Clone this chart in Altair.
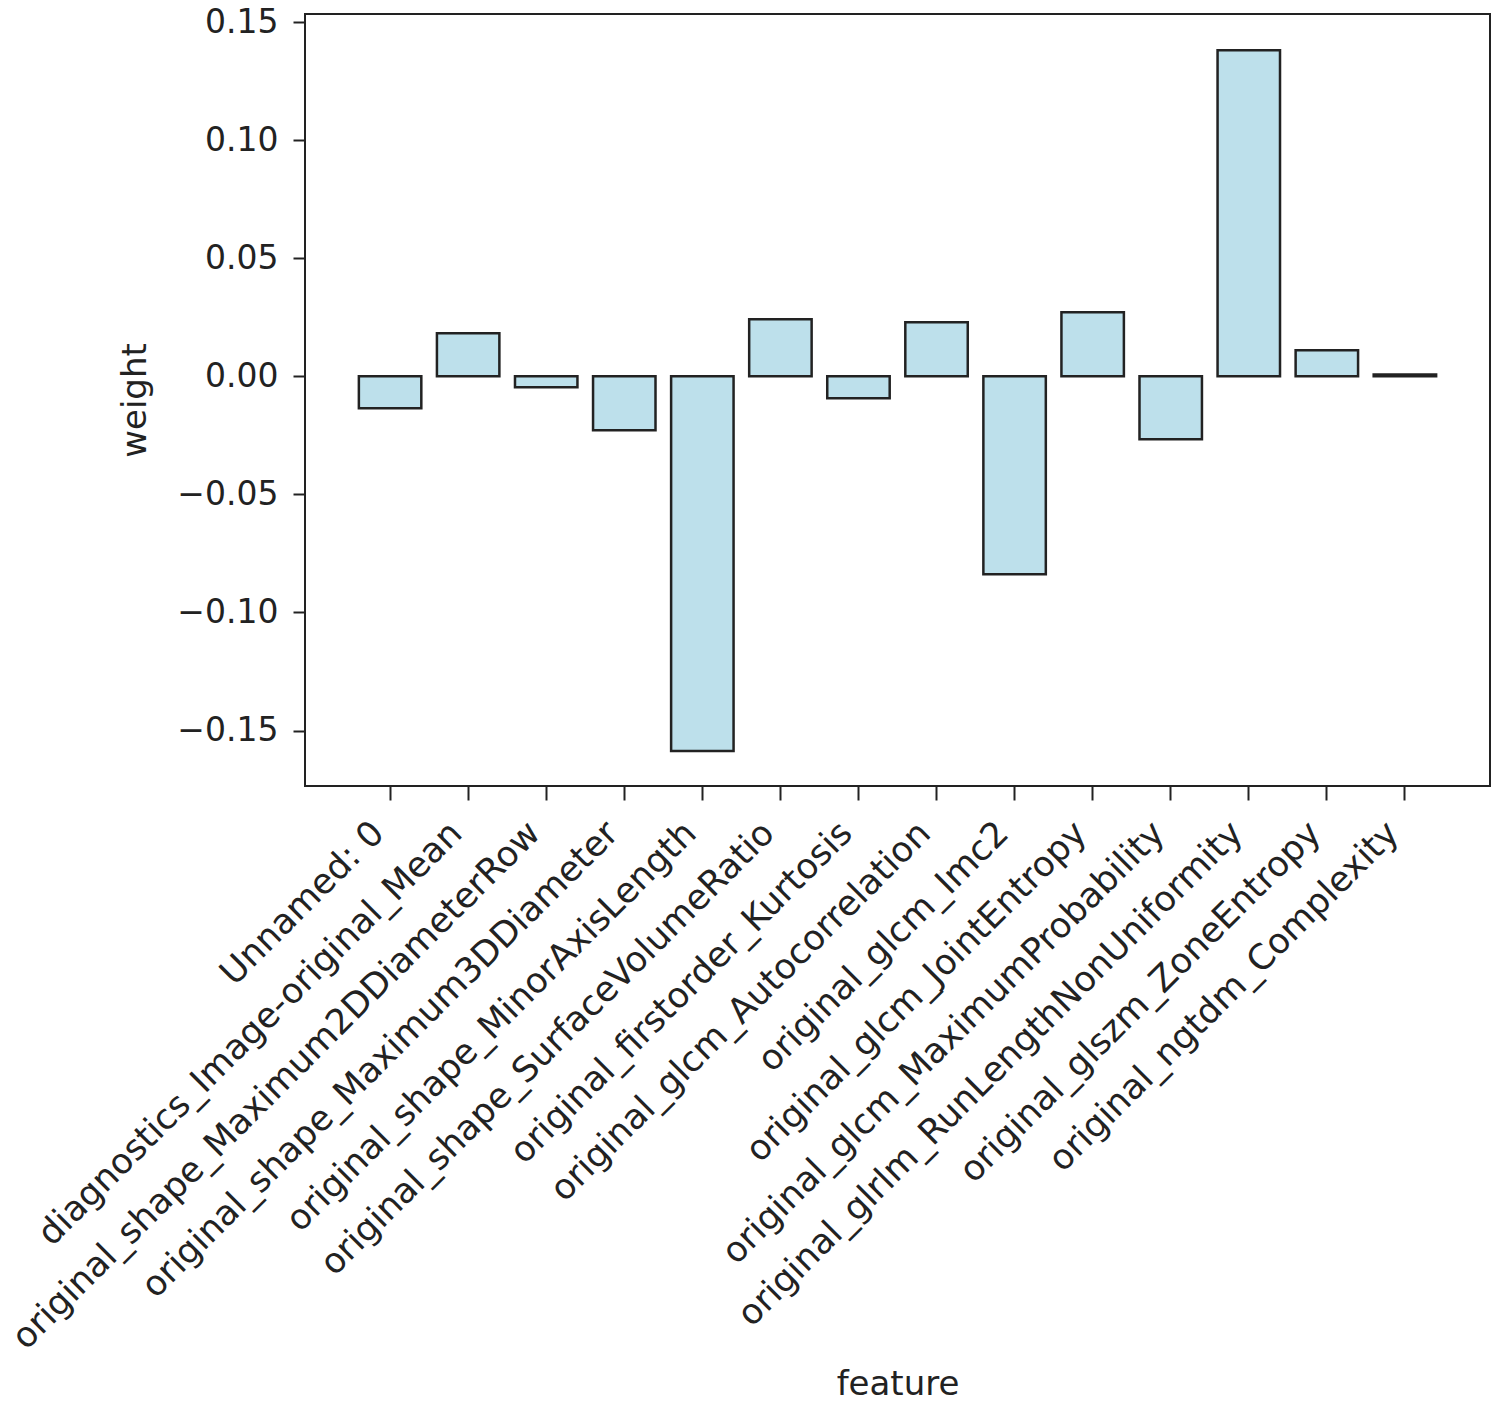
import altair as alt
import pandas as pd

features = [
    "Unnamed: 0",
    "diagnostics_Image-original_Mean",
    "original_shape_Maximum2DDiameterRow",
    "original_shape_Maximum3DDiameter",
    "original_shape_MinorAxisLength",
    "original_shape_SurfaceVolumeRatio",
    "original_firstorder_Kurtosis",
    "original_glcm_Autocorrelation",
    "original_glcm_Imc2",
    "original_glcm_JointEntropy",
    "original_glcm_MaximumProbability",
    "original_glrlm_RunLengthNonUniformity",
    "original_glszm_ZoneEntropy",
    "original_ngtdm_Complexity",
]
weights = [-0.0135, 0.0182, -0.0047, -0.0229, -0.1587, 0.0241, -0.0093,
           0.0229, -0.0838, 0.0271, -0.0267, 0.1380, 0.0110, 0.0008]
y_ticks = [-0.15, -0.10, -0.05, 0.0, 0.05, 0.10, 0.15]

df = pd.DataFrame({"feature": features, "weight": weights})

FONT = "DejaVu Sans"

chart = alt.Chart(df).mark_bar(
    fill="#add8e6", fillOpacity=0.8, stroke="#222222", strokeWidth=2.5
).encode(
    x=alt.X("feature:N", sort=None, title="feature",
            scale=alt.Scale(paddingInner=0.2, paddingOuter=0.69),
            axis=alt.Axis(labelAngle=-45, labelAlign="right", labelBaseline="top",
                          labelLimit=2000, labelPadding=15, labelOffset=-24, tickSize=14,
                          labelFontSize=35,
                          domain=False, titleY=598, titleBaseline="middle")),
    y=alt.Y("weight:Q", title="weight",
            scale=alt.Scale(domain=[-0.1735, 0.1534], nice=False, zero=False),
            axis=alt.Axis(values=y_ticks, format=".2f", tickSize=12, labelPadding=15,
                          labelFontSize=33,
                          domain=False, grid=False, titleX=-170, titleBaseline="middle",
                          titleY=386)),
).properties(
    width=1185, height=772,
    autosize=alt.AutoSizeParams(type="none"),
    padding={"left": 297, "top": 6, "right": 1, "bottom": 617},
).configure_view(
    stroke="#222222", strokeWidth=2
).configure_axis(
    labelFont=FONT, titleFont=FONT, titleFontSize=34,
    labelColor="#222222", titleColor="#222222", tickColor="#222222", tickWidth=2,
    titleFontWeight="normal", grid=False,
)

chart.save("out.html", embed_options={"renderer": "svg", "actions": False})
